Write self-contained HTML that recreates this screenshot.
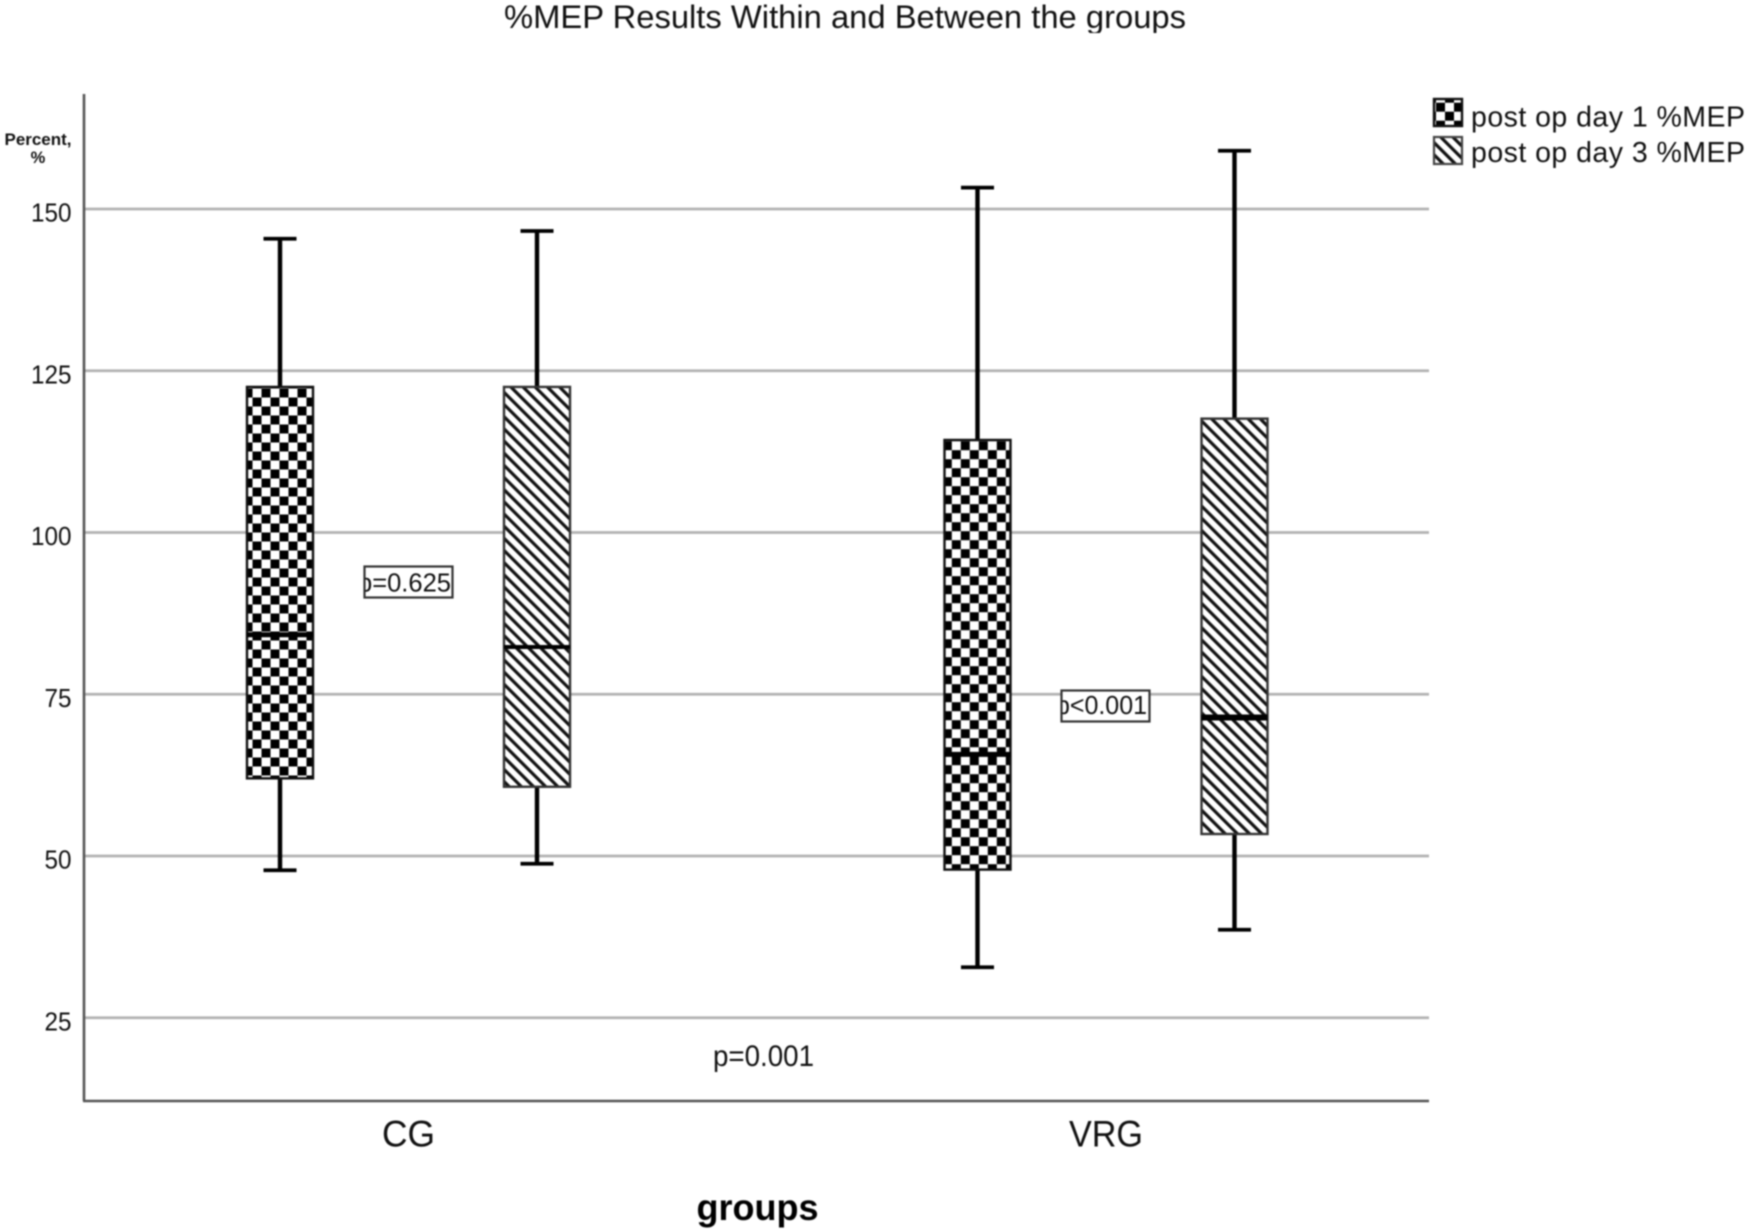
<!DOCTYPE html>
<html>
<head>
<meta charset="utf-8">
<title>%MEP Results Within and Between the groups</title>
<style>
html,body{margin:0;padding:0;background:#fff;width:1749px;height:1231px;overflow:hidden}
svg{display:block;filter:blur(0.7px)}
text{font-family:"Liberation Sans",Arial,sans-serif;fill:#111}
</style>
</head>
<body>
<svg id="chart" xmlns="http://www.w3.org/2000/svg" width="1749" height="1231" viewBox="0 0 1749 1231">
  <defs>
    <pattern id="checker-0" patternUnits="userSpaceOnUse" width="18" height="18" x="9.5" y="10.5">
      <rect width="18" height="18" fill="#fff"/>
      <rect x="0" y="0" width="9" height="9" fill="#000"/>
      <rect x="9" y="9" width="9" height="9" fill="#000"/>
    </pattern>
    <pattern id="checker-1" patternUnits="userSpaceOnUse" width="18" height="18" x="15.8" y="0.2">
      <rect width="18" height="18" fill="#fff"/>
      <rect x="0" y="0" width="9" height="9" fill="#000"/>
      <rect x="9" y="9" width="9" height="9" fill="#000"/>
    </pattern>
    <pattern id="checker-legend" patternUnits="userSpaceOnUse" width="18" height="18" x="5" y="3.7">
      <rect width="18" height="18" fill="#fff"/>
      <rect x="0" y="0" width="9" height="9" fill="#000"/>
      <rect x="9" y="9" width="9" height="9" fill="#000"/>
    </pattern>
    <pattern id="hatch" patternUnits="userSpaceOnUse" width="8.6" height="8.6" patternTransform="rotate(-45)">
      <rect width="8.6" height="8.6" fill="#fff"/>
      <rect x="0" y="0" width="3.2" height="8.6" fill="#111"/>
    </pattern>
    <clipPath id="clip-p1"><rect x="365" y="567" width="87" height="30"/></clipPath>
    <clipPath id="clip-p2"><rect x="1062" y="691" width="87" height="30"/></clipPath>
    <clipPath id="clip-title"><rect x="0" y="0" width="1749" height="33"/></clipPath>
  </defs>

  <text x="504" y="28" font-size="32.5" textLength="682" lengthAdjust="spacingAndGlyphs" clip-path="url(#clip-title)">%MEP Results Within and Between the groups</text>

  <g id="grid"></g>
  <g id="ticks"></g>

  <line x1="84" y1="94" x2="84" y2="1101" stroke="#555" stroke-width="2.6"/>
  <line x1="83" y1="1101" x2="1429" y2="1101" stroke="#555" stroke-width="2.6"/>

  <g>
    <text x="38" y="145" font-size="16.5" font-weight="bold" text-anchor="middle" textLength="67" lengthAdjust="spacingAndGlyphs">Percent,</text>
    <text x="38" y="163" font-size="16.5" font-weight="bold" text-anchor="middle">%</text>
  </g>

  <g id="boxes"></g>
  <g id="cats"></g>

  <text x="757.5" y="1220" font-size="37" font-weight="bold" text-anchor="middle" textLength="122" lengthAdjust="spacingAndGlyphs" style="fill:#000">groups</text>

  <g>
    <rect x="364.5" y="566.5" width="88" height="31" fill="#fff" stroke="#333" stroke-width="2.2"/>
    <text x="358" y="591.5" font-size="26" clip-path="url(#clip-p1)" textLength="93" lengthAdjust="spacingAndGlyphs">p=0.625</text>
  </g>
  <g>
    <rect x="1061.5" y="690.5" width="88" height="31" fill="#fff" stroke="#333" stroke-width="2.2"/>
    <text x="1056" y="714" font-size="26" clip-path="url(#clip-p2)" textLength="91" lengthAdjust="spacingAndGlyphs">p&lt;0.001</text>
  </g>
  <text x="713" y="1066" font-size="30" textLength="101" lengthAdjust="spacingAndGlyphs">p=0.001</text>

  <g>
    <g>
      <rect x="1434" y="99" width="28" height="27" fill="url(#checker-legend)" stroke="#111" stroke-width="2.4"/>
      <text x="1471" y="126.5" font-size="28.5" textLength="274" lengthAdjust="spacing">post op day 1 %MEP</text>
    </g>
    <g>
      <rect x="1434" y="137" width="28" height="27" fill="url(#hatch)" stroke="#444" stroke-width="2.2"/>
      <text x="1471" y="162" font-size="28.5" textLength="274" lengthAdjust="spacing">post op day 3 %MEP</text>
    </g>
  </g>
</svg>
<script>
var categories = ['CG', 'VRG'];
var tickValues = [25, 50, 75, 100, 125, 150];
var day1WhiskerHigh = [145.4, 153.3];
var day1Q3 = [122.5, 114.3];
var day1Median = [84.2, 65.7];
var day1Q1 = [62, 47.9];
var day1WhiskerLow = [47.8, 32.8];
var day3WhiskerHigh = [146.6, 159];
var day3Q3 = [122.5, 117.6];
var day3Median = [82.3, 71.4];
var day3Q1 = [60.7, 53.4];
var day3WhiskerLow = [48.8, 38.6];

var NS = 'http://www.w3.org/2000/svg';
function yScale(v) { return 209 + (150 - v) * 6.47; }
function xScale(i) { return 408.5 + i * 697.5; }
function make(tag, parent, attrs) {
  var el = document.createElementNS(NS, tag);
  for (var k in attrs) { el.setAttribute(k, attrs[k]); }
  parent.appendChild(el);
  return el;
}
var grid = document.getElementById('grid');
var ticks = document.getElementById('ticks');
tickValues.forEach(function (t) {
  var line = make('line', grid, { x1: 85, x2: 1429, y1: yScale(t), y2: yScale(t), stroke: '#b2b2b2', 'stroke-width': 2.8 });
  
  
  var txt = String(t);
  var label = make('text', ticks, { x: 71.5, y: yScale(t) + 12.5, 'font-size': 26, 'text-anchor': 'end', textLength: txt.length * 13.5, lengthAdjust: 'spacingAndGlyphs' });
  
  
  label.textContent = txt;
});
var cats = document.getElementById('cats');
categories.forEach(function (c, i) {
  var label = make('text', cats, { x: xScale(i), y: 1146.5, 'font-size': 37, 'text-anchor': 'middle', textLength: c.length === 2 ? 53 : 74, lengthAdjust: 'spacingAndGlyphs' });
  
  
  label.textContent = c;
});
var boxes = document.getElementById('boxes');
function drawBox(cx, hi, q3, med, q1, lo, fill, medW, edge, name) {
  var halfBox = 33, halfCap = 16.5;
  var g = make('g', boxes, {});
  
  
  make('line', g, { x1: cx, x2: cx, y1: yScale(hi), y2: yScale(q3), stroke: '#000', 'stroke-width': 4.4 });
  make('line', g, { x1: cx, x2: cx, y1: yScale(q1), y2: yScale(lo), stroke: '#000', 'stroke-width': 4.4 });
  make('line', g, { x1: cx - halfCap, x2: cx + halfCap, y1: yScale(hi), y2: yScale(hi), stroke: '#000', 'stroke-width': 3.8 });
  make('line', g, { x1: cx - halfCap, x2: cx + halfCap, y1: yScale(lo), y2: yScale(lo), stroke: '#000', 'stroke-width': 3.8 });
  make('rect', g, { x: cx - halfBox, y: yScale(q3), width: halfBox * 2, height: yScale(q1) - yScale(q3), fill: 'url(#' + fill + ')', stroke: edge, 'stroke-width': 2.4 });
  make('line', g, { x1: cx - halfBox, x2: cx + halfBox, y1: yScale(med), y2: yScale(med), stroke: '#000', 'stroke-width': medW });
}
categories.forEach(function (c, i) {
  var key = c.toLowerCase();
  drawBox(xScale(i) - 128.5, day1WhiskerHigh[i], day1Q3[i], day1Median[i], day1Q1[i], day1WhiskerLow[i], 'checker-' + i, 5, '#111', 'box-' + key + '-day-1');
  drawBox(xScale(i) + 128.5, day3WhiskerHigh[i], day3Q3[i], day3Median[i], day3Q1[i], day3WhiskerLow[i], 'hatch', i === 0 ? 4 : 6, '#333', 'box-' + key + '-day-3');
});
</script>
</body>
</html>
